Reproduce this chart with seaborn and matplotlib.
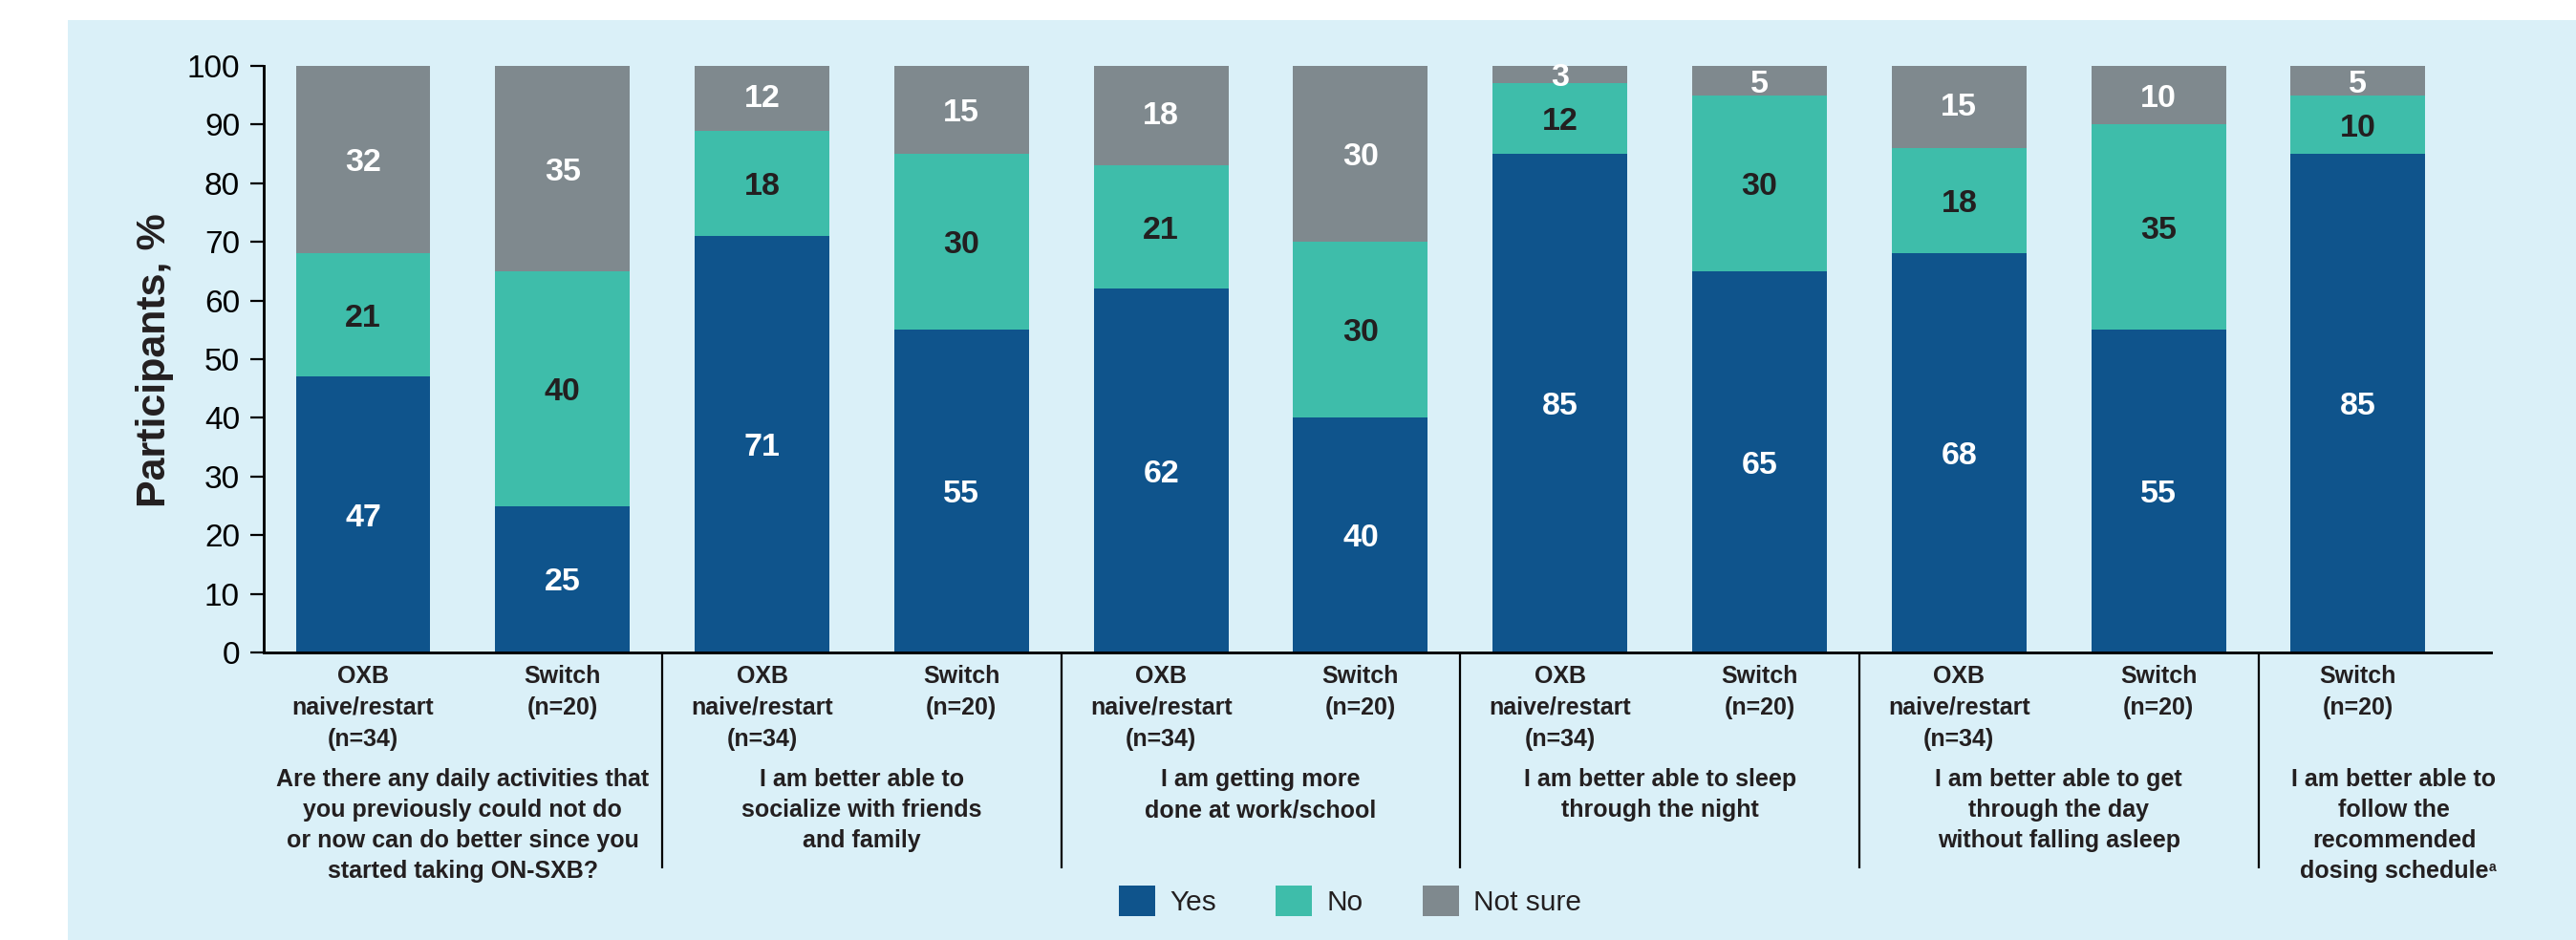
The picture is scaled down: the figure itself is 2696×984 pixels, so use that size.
import matplotlib
matplotlib.use("Agg")
import matplotlib.pyplot as plt
from matplotlib.patches import Patch, Rectangle
import pandas as pd
import seaborn as sns

# ---- data -------------------------------------------------------------
bar_ids = [
    "activities_oxb", "activities_switch",
    "socialize_oxb", "socialize_switch",
    "work_oxb", "work_switch",
    "sleep_oxb", "sleep_switch",
    "day_oxb", "day_switch",
    "dosing_switch",
]
bar_labels = [
    ["OXB", "naive/restart", "(n=34)"], ["Switch", "(n=20)"],
    ["OXB", "naive/restart", "(n=34)"], ["Switch", "(n=20)"],
    ["OXB", "naive/restart", "(n=34)"], ["Switch", "(n=20)"],
    ["OXB", "naive/restart", "(n=34)"], ["Switch", "(n=20)"],
    ["OXB", "naive/restart", "(n=34)"], ["Switch", "(n=20)"],
    ["Switch", "(n=20)"],
]
yes = [47, 25, 71, 55, 62, 40, 85, 65, 68, 55, 85]
no = [21, 40, 18, 30, 21, 30, 12, 30, 18, 35, 10]
not_sure = [32, 35, 12, 15, 18, 30, 3, 5, 15, 10, 5]

questions = [
    ["Are there any daily activities that", "you previously could not do",
     "or now can do better since you", "started taking ON-SXB?"],
    ["I am better able to", "socialize with friends", "and family"],
    ["I am getting more", "done at work/school"],
    ["I am better able to sleep", "through the night"],
    ["I am better able to get", "through the day", "without falling asleep"],
    ["I am better able to", "follow the", "recommended", "dosing schedule"],
]
series_names = ["Yes", "No", "Not sure"]
y_ticks = list(range(0, 101, 10))

# ---- layout / style ---------------------------------------------------
question_x = [0.5, 2.5, 4.5, 6.5, 8.5, 10.18]
separator_x = [1.5, 3.5, 5.5, 7.5, 9.5]

C_YES = "#0F548C"
C_NO = "#3EBDAA"
C_NS = "#7F898E"
PANEL = "#DAF0F8"
DARK = "#231F20"

W, H = 2696, 984
sns.set_theme(style="white")
plt.rcParams["font.family"] = ["Liberation Sans", "DejaVu Sans"]

fig = plt.figure(figsize=(W / 100, H / 100), dpi=100)
fig.patch.set_facecolor("white")
fig.add_artist(Rectangle((71 / W, 0), 1 - 71 / W, 1 - 21 / H,
                         transform=fig.transFigure, facecolor=PANEL,
                         edgecolor="none", zorder=-5))

ax_l, ax_r, ax_t, ax_b = 276, 2607, 69, 683
ax = fig.add_axes([ax_l / W, 1 - ax_b / H, (ax_r - ax_l) / W, (ax_b - ax_t) / H])
ax.set_facecolor(PANEL)

df = pd.DataFrame({"bar": bar_ids, "yes": yes, "no": no, "not_sure": not_sure})
df["yes_no"] = df["yes"] + df["no"]
df["total"] = df["yes_no"] + df["not_sure"]

BAR_W = 0.675
# stacked bars: full totals first, then overlay the lower segments
for col, color in [("total", C_NS), ("yes_no", C_NO), ("yes", C_YES)]:
    sns.barplot(data=df, x="bar", y=col, order=bar_ids, color=color,
                width=BAR_W, saturation=1, errorbar=None, linewidth=0, ax=ax)

ax.set_xlim(-0.498, 10.666)
ax.set_ylim(0, 100)
ax.set_yticks(y_ticks)
ax.set_xticks([])
ax.set_xlabel("")
ax.set_ylabel("")
for s in ["top", "right"]:
    ax.spines[s].set_visible(False)
for s in ["left", "bottom"]:
    ax.spines[s].set_color("black")
    ax.spines[s].set_linewidth(2.1)
ax.tick_params(axis="y", length=10, width=1.6, pad=8, labelsize=24,
               colors="black", left=True)

# segment value labels
VAL_FS = 24.5
for i in range(len(bar_ids)):
    base = 0
    for val, tcolor in zip((yes[i], no[i], not_sure[i]), ("white", DARK, "white")):
        ax.annotate(str(val), xy=(i, base + val / 2), xytext=(0, -VAL_FS * 0.716 / 2),
                    textcoords="offset points", ha="center", va="baseline",
                    fontsize=VAL_FS, fontweight="bold", color=tcolor,
                    annotation_clip=False)
        base += val

# category labels under the axis
xt = ax.get_xaxis_transform()
span = ax_b - ax_t


def yfrac(px):
    return (ax_b - px) / span


CAT_FS = 18
for i, lines in enumerate(bar_labels):
    for k, line in enumerate(lines):
        ax.text(i, yfrac(715 + 33 * k), line, transform=xt, ha="center",
                va="baseline", fontsize=CAT_FS, fontweight="bold", color=DARK,
                clip_on=False)

for qx, lines in zip(question_x, questions):
    for k, line in enumerate(lines):
        t = ax.text(qx, yfrac(823 + 32 * k), line, transform=xt, ha="center",
                    va="baseline", fontsize=CAT_FS, fontweight="bold",
                    color=DARK, clip_on=False)
    last_line = t
# footnote marker on the last question
ax.annotate("a", xy=(1.0, 0.95), xycoords=last_line, ha="left", va="top",
            fontsize=10, fontweight="bold", color=DARK)

# group separators
for sx in separator_x:
    ax.plot([sx, sx], [0, yfrac(909)], transform=xt, color="black",
            linewidth=1.6, clip_on=False, solid_capstyle="butt")

# y axis title
fig.text(161.5 / W, 1 - 377 / H, "Participants, %", rotation=90, ha="center",
         va="center", fontsize=31, fontweight="bold", color=DARK)

# legend
handles = [Patch(facecolor=c, edgecolor="none") for c in (C_YES, C_NO, C_NS)]
fig.legend(handles, series_names, loc="center",
           bbox_to_anchor=(1413 / W, 1 - 943 / H), ncol=3, frameon=False,
           fontsize=21.5, handlelength=1.27, handleheight=1.27,
           handletextpad=0.5, columnspacing=2.1, labelcolor=DARK)

fig.savefig("out.png", dpi=100, facecolor=fig.get_facecolor())
